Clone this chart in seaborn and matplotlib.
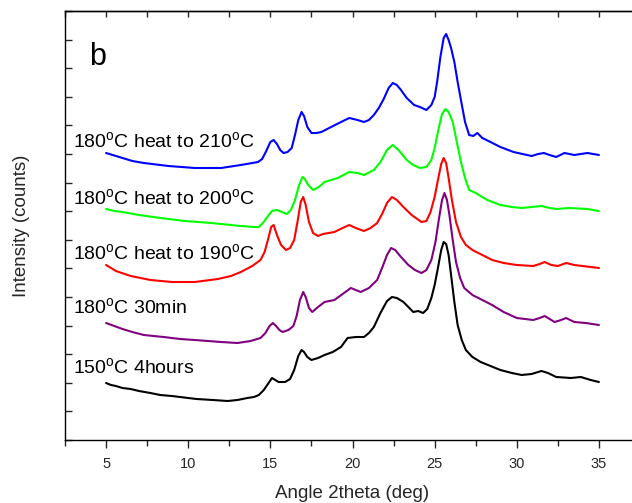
import numpy as np
import pandas as pd
import matplotlib
matplotlib.use("Agg")
import matplotlib.pyplot as plt
import seaborn as sns

# ---- data (2theta in deg, intensity in arbitrary offset counts) ----
x_black = [5.0, 5.3, 5.6, 6.0, 6.5, 7.0, 7.7, 8.3, 9.0, 9.5, 10.5, 11.5, 12.4, 13.0, 13.6, 14.0,
           14.3, 14.6, 14.85, 15.1, 15.3, 15.5, 15.9, 16.2, 16.45, 16.7, 16.9, 17.05, 17.25, 17.5,
           17.9, 18.3, 18.8, 19.3, 19.7, 20.2, 20.7, 21.0, 21.3, 21.7, 22.1, 22.4, 22.7, 23.1, 23.4,
           23.7, 24.0, 24.3, 24.55, 24.8, 25.0, 25.2, 25.4, 25.55, 25.7, 25.85, 26.0, 26.2, 26.4,
           26.65, 26.9, 27.3, 27.8, 28.4, 29.0, 29.7, 30.3, 30.9, 31.5, 31.9, 32.4, 33.3, 33.9,
           34.5, 35.0]
y_black = [57, 55, 54, 52, 51, 49, 47, 45, 44, 43, 41, 40, 39, 40, 42, 43,
           45, 50, 56, 62, 60, 58, 58, 61, 70, 84, 90, 88, 83, 80,
           82, 85, 88, 93, 102, 103, 103, 107, 113, 127, 139, 143, 142, 138, 133,
           128, 129, 127, 131, 142, 155, 172, 190, 198, 196, 185, 165, 138, 115,
           100, 90, 83, 78, 74, 70, 67, 65, 66, 69, 67, 63, 62, 63,
           60, 58]

x_purple = [5.0, 5.5, 6.0, 6.6, 7.3, 8.5, 9.5, 10.4, 12.0, 13.0, 13.8, 14.4, 14.7, 14.95, 15.15,
            15.35, 15.55, 15.75, 16.1, 16.4, 16.6, 16.8, 17.0, 17.15, 17.35, 17.55, 17.9, 18.3,
            18.9, 19.4, 19.9, 20.5, 21.0, 21.5, 21.8, 22.1, 22.35, 22.6, 22.9, 23.4, 23.8, 24.2,
            24.5, 24.8, 25.05, 25.25, 25.45, 25.6, 25.75, 25.9, 26.1, 26.3, 26.55, 26.8, 27.3,
            27.9, 28.5, 29.2, 30.0, 31.0, 31.4, 31.7, 32.0, 32.3, 32.7, 33.0, 33.5, 34.2, 35.0]
y_purple = [117, 114, 111, 108, 105, 103, 101, 100, 98, 97, 99, 102, 107, 114, 117,
            114, 110, 108, 110, 114, 124, 140, 148, 143, 132, 128, 133, 138,
            140, 146, 152, 148, 152, 160, 172, 185, 192, 190, 184, 175, 170, 167,
            170, 180, 198, 220, 240, 247, 240, 225, 200, 178, 162, 152, 145,
            140, 135, 128, 122, 120, 122, 124, 121, 118, 120, 122, 118, 117, 115]

x_red = [5.0, 5.3, 5.6, 6.5, 7.7, 9.0, 10.4, 11.8, 12.6, 13.2, 13.9, 14.4, 14.65, 14.85, 15.05,
         15.2, 15.4, 15.65, 15.95, 16.2, 16.45, 16.65, 16.85, 17.0, 17.15, 17.35, 17.6, 17.9,
         18.2, 18.9, 19.4, 19.8, 20.2, 20.7, 21.1, 21.5, 21.8, 22.1, 22.4, 22.7, 23.1, 23.6,
         24.2, 24.5, 24.75, 25.0, 25.2, 25.4, 25.55, 25.7, 25.85, 26.05, 26.3, 26.6, 26.9,
         27.3, 27.9, 28.5, 29.2, 30.0, 31.0, 31.4, 31.7, 32.1, 32.5, 33.0, 33.5, 34.0, 35.0]
y_red = [175, 172, 169, 164, 160, 158, 158, 161, 164, 168, 174, 180, 188, 200, 213,
         215, 205, 195, 190, 192, 200, 218, 238, 243, 235, 218, 207, 204,
         206, 208, 212, 215, 212, 209, 212, 217, 226, 237, 243, 240, 233, 225,
         218, 219, 228, 243, 260, 276, 282, 277, 262, 240, 218, 203, 195,
         190, 185, 180, 177, 175, 174, 176, 178, 175, 174, 177, 175, 174, 172]

x_green = [5.0, 5.5, 6.0, 7.0, 8.3, 9.8, 11.4, 13.2, 14.0, 14.3, 14.6, 14.85, 15.1, 15.4, 15.7,
           16.0, 16.25, 16.5, 16.75, 16.95, 17.1, 17.3, 17.6, 17.95, 18.3, 19.1, 19.8, 20.3,
           20.7, 21.3, 21.7, 22.1, 22.45, 22.8, 23.3, 23.7, 24.1, 24.5, 24.8, 25.0, 25.25, 25.45,
           25.65, 25.85, 26.1, 26.35, 26.6, 26.85, 27.1, 27.5, 27.9, 28.2, 29.0, 29.7, 30.3,
           30.9, 31.5, 32.0, 32.4, 33.2, 34.3, 35.0]
y_green = [231, 229, 228, 225, 222, 219, 217, 214, 213, 213, 218, 224, 229, 230, 228,
           226, 230, 240, 255, 263, 261, 255, 250, 253, 258, 262, 268, 267,
           265, 270, 278, 290, 295, 290, 280, 275, 272, 273, 280, 292, 312, 326,
           331, 328, 318, 298, 278, 262, 250, 247, 243, 240, 235, 233, 232,
           233, 234, 232, 231, 232, 231, 229]

x_blue = [5.0, 5.4, 6.0, 6.6, 7.3, 8.8, 10.4, 12.0, 13.2, 14.25, 14.5, 14.75, 15.0, 15.2, 15.4,
          15.6, 15.8, 16.05, 16.3, 16.5, 16.7, 16.9, 17.05, 17.25, 17.5, 17.8, 18.1, 18.7,
          19.3, 19.8, 20.3, 20.7, 21.0, 21.3, 21.6, 21.9, 22.2, 22.45, 22.7, 22.95, 23.3, 23.75,
          24.1, 24.5, 24.8, 25.0, 25.15, 25.35, 25.55, 25.7, 25.85, 26.0, 26.2, 26.4, 26.6,
          26.85, 27.1, 27.35, 27.6, 27.9, 28.4, 29.0, 29.8, 30.9, 31.3, 31.65, 32.0, 32.4,
          32.9, 33.5, 34.3, 35.0]
y_blue = [287, 285, 282, 279, 277, 274, 272, 272, 275, 278, 281, 289, 298, 300, 296,
          290, 287, 288, 292, 305, 320, 328, 324, 313, 307, 307, 308, 313,
          318, 322, 320, 318, 320, 325, 332, 341, 352, 357, 355, 350, 342, 335,
          333, 330, 335, 343, 358, 383, 402, 406, 400, 392, 378, 358, 340,
          318, 305, 304, 307, 302, 298, 293, 288, 284, 286, 287, 285, 283,
          287, 285, 287, 285]

series_names = ["150C 4hours", "180C 30min", "180C heat to 190C", "180C heat to 200C", "180C heat to 210C"]
series_x = [x_black, x_purple, x_red, x_green, x_blue]
series_y = [y_black, y_purple, y_red, y_green, y_blue]
series_colors = ["#000000", "#800080", "#ff0000", "#00ff00", "#0000ff"]
series_labels = ["150$^{\\mathrm{o}}$C 4hours",
                 "180$^{\\mathrm{o}}$C 30min",
                 "180$^{\\mathrm{o}}$C heat to 190$^{\\mathrm{o}}$C",
                 "180$^{\\mathrm{o}}$C heat to 200$^{\\mathrm{o}}$C",
                 "180$^{\\mathrm{o}}$C heat to 210$^{\\mathrm{o}}$C"]
label_y = [67, 127, 181, 236, 293]

x_ticks = [5, 10, 15, 20, 25, 30, 35]

# ---- build long table ----
frames = []
for name, xs, ys in zip(series_names, series_x, series_y):
    frames.append(pd.DataFrame({"angle": xs, "intensity": ys, "sample": name}))
df = pd.concat(frames, ignore_index=True)

sns.set_style("ticks")
plt.rcParams["font.family"] = ["Liberation Sans", "DejaVu Sans"]
plt.rcParams["mathtext.fontset"] = "custom"
plt.rcParams["mathtext.rm"] = "Liberation Sans"
plt.rcParams["mathtext.it"] = "Liberation Sans:italic"

W, H = 632, 503
fig = plt.figure(figsize=(W / 100, H / 100), dpi=100)
ax = fig.add_axes([65 / W, (H - 440) / H, (640 - 65) / W, (440 - 11) / H])

sns.lineplot(data=df, x="angle", y="intensity", hue="sample",
             palette=dict(zip(series_names, series_colors)),
             estimator=None, sort=False, linewidth=1.5, legend=False, ax=ax)

ax.set_xlim(2.5, 37.5)
ax.set_ylim(0, 429)

for lab, ly in zip(series_labels, label_y):
    ax.text(3.0, ly, lab, fontsize=14, ha="left", va="baseline", color="black")
ax.text(3.95, 375, "b", fontsize=22, ha="left", va="baseline", color="black")

ax.set_xticks(x_ticks)
ax.set_xticks(np.arange(2.5, 37.6, 2.5), minor=True)
ax.set_yticks(np.linspace(0, 429, 16))
ax.set_yticklabels([])
ax.tick_params(axis="x", which="major", direction="out", length=6, width=1, labelsize=10.5, pad=6,
               top=False)
ax.tick_params(axis="x", which="minor", direction="out", length=4, width=1, top=False)
ax.tick_params(axis="y", which="major", direction="in", length=5, width=1, right=False)

# top ticks inside
sec = ax.secondary_xaxis("top")
sec.set_xticks(np.arange(2.5, 37.6, 2.5))
sec.tick_params(direction="in", length=4, width=1, labeltop=False)
sec.spines["top"].set_linewidth(1.0)

for s in ax.spines.values():
    s.set_linewidth(1.0)
    s.set_color("black")

ax.set_xlabel("Angle 2theta (deg)", fontsize=13.5, labelpad=10)
ax.set_ylabel("Intensity (counts)", fontsize=13.5, labelpad=22)

fig.savefig("out.png", dpi=100)
